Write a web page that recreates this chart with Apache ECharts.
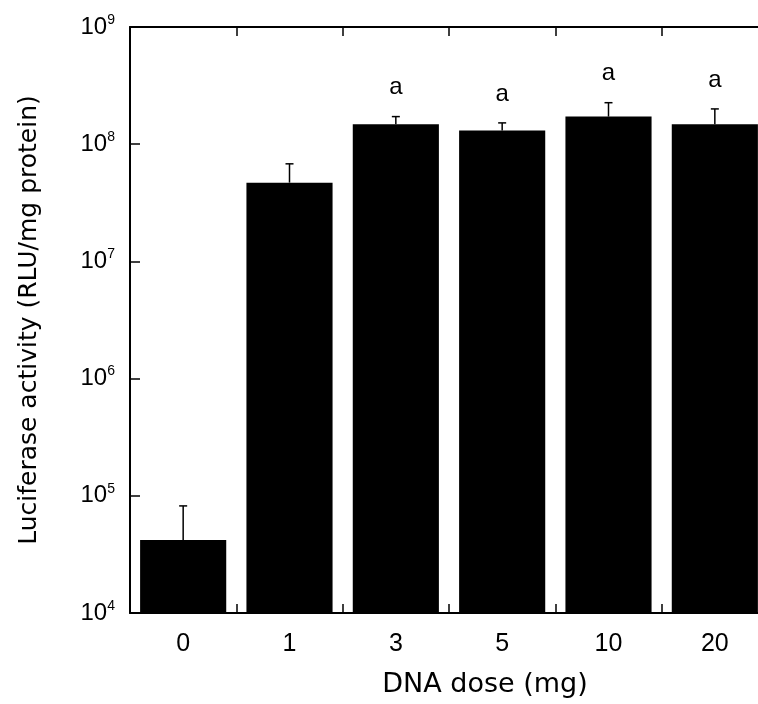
<!DOCTYPE html>
<html>
<head>
<meta charset="utf-8">
<script src="https://cdn.jsdelivr.net/npm/echarts@6/dist/echarts.min.js"></script>
<style>
  html, body { margin: 0; padding: 0; background: #fff; }
  #chart { width: 758px; height: 704px; }
</style>
</head>
<body>
<div id="chart"></div>
<script>
// DNA dose groups and luciferase activity (RLU/mg protein)
var doses = ['0', '1', '3', '5', '10', '20'];
var activity = [4.2e4, 4.7e7, 1.48e8, 1.31e8, 1.72e8, 1.48e8];
var errors = [4.0e4, 2.1e7, 2.4e7, 2.1e7, 5.4e7, 5.2e7];
var marks = ['', '', 'a', 'a', 'a', 'a'];

var font = 'Liberation Sans, Arial, Helvetica, sans-serif';
var nameFont = 'DejaVu Sans, Liberation Sans, sans-serif';
var chart = echarts.init(document.getElementById('chart'));

var errData = doses.map(function (d, i) {
    return [i, activity[i], activity[i] + errors[i]];
});

var option = {
    backgroundColor: '#fff',
    animation: false,
    textStyle: { fontFamily: font, color: '#000' },
    grid: { left: 130, top: 27, width: 638, bottom: 91, containLabel: false, outerBoundsMode: 'none' },
    xAxis: [
        {
            type: 'category',
            data: doses,
            position: 'bottom',
            name: 'DNA dose (mg)',
            nameLocation: 'middle',
            nameGap: 58,
            nameTextStyle: { fontSize: 27, color: '#000', fontFamily: nameFont, padding: [0, 0, 0, 72] },
            axisLine: { lineStyle: { color: '#000', width: 2 } },
            axisTick: { show: true, inside: true, length: 9, lineStyle: { color: '#000', width: 1.5 } },
            axisLabel: { fontSize: 25, color: '#000', margin: 19, fontFamily: font }
        },
        {
            type: 'category',
            data: doses,
            position: 'top',
            axisLine: { lineStyle: { color: '#000', width: 2 } },
            axisTick: { show: true, inside: true, length: 9, lineStyle: { color: '#000', width: 1.5 } },
            axisLabel: { show: false }
        }
    ],
    yAxis: {
        type: 'log',
        logBase: 10,
        min: 1e4,
        max: 1e9,
        name: 'Luciferase activity (RLU/mg protein)',
        nameLocation: 'middle',
        nameGap: 88,
        nameTextStyle: { fontSize: 25, color: '#000', fontFamily: nameFont },
        axisLine: { show: true, lineStyle: { color: '#000', width: 2 } },
        axisTick: { show: true, inside: true, length: 10, lineStyle: { color: '#000', width: 1.5 } },
        splitLine: { show: false },
        minorTick: { show: false },
        axisLabel: {
            margin: 15,
            color: '#000',
            formatter: function (v) {
                var e = Math.round(Math.log10(v));
                return '{base|10}{sup|' + e + '}';
            },
            rich: {
                base: { fontSize: 24, fontFamily: font, color: '#000' },
                sup: { fontSize: 14, fontFamily: font, color: '#000', padding: [0, 0, 14, 0] }
            }
        }
    },
    series: [
        {
            type: 'bar',
            data: activity,
            barWidth: '81%',
            itemStyle: { color: '#000' }
        },
        {
            type: 'custom',
            data: errData,
            z: 5,
            renderItem: function (params, api) {
                var x = api.coord([api.value(0), api.value(1)]);
                var hi = api.coord([api.value(0), api.value(2)]);
                var label = marks[params.dataIndex];
                var children = [
                    { type: 'line', shape: { x1: x[0], y1: x[1], x2: hi[0], y2: hi[1] },
                      style: { stroke: '#000', lineWidth: 1.5 } },
                    { type: 'line', shape: { x1: hi[0] - 4, y1: hi[1], x2: hi[0] + 4, y2: hi[1] },
                      style: { stroke: '#000', lineWidth: 1.5 } }
                ];
                if (label) {
                    children.push({
                        type: 'text',
                        style: {
                            x: hi[0], y: hi[1] - 29, text: label,
                            fill: '#000', font: '24px ' + font,
                            textAlign: 'center', textVerticalAlign: 'middle'
                        }
                    });
                }
                return { type: 'group', children: children };
            }
        }
    ]
};

chart.setOption(option);
</script>
</body>
</html>
